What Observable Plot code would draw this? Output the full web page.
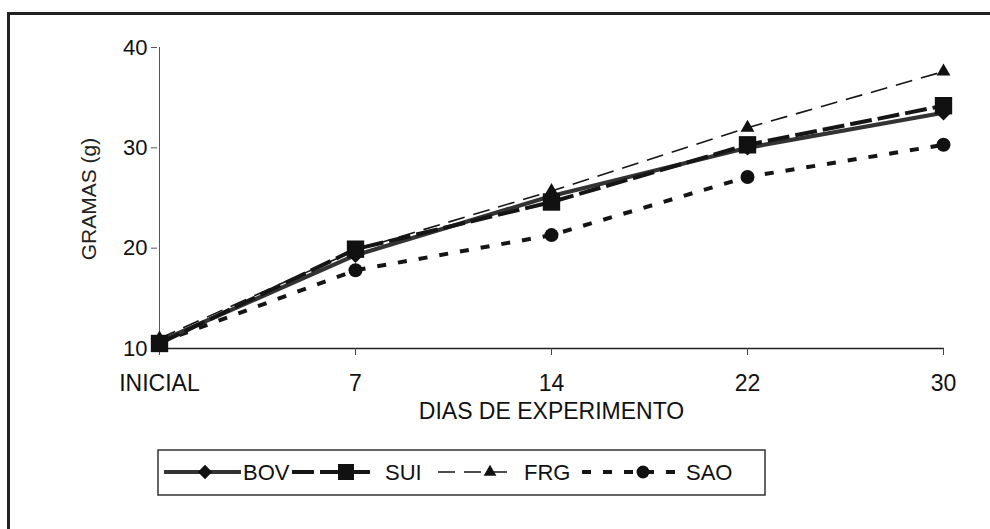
<!DOCTYPE html>
<html>
<head>
<meta charset="utf-8">
<script src="https://cdn.jsdelivr.net/npm/d3@7"></script>
<script src="https://cdn.jsdelivr.net/npm/@observablehq/plot@0.6"></script>
<style>
  html, body { margin: 0; padding: 0; background: #fff; }
  #wrap { position: relative; width: 990px; height: 529px; overflow: hidden; font-family: "Liberation Sans", Arial, sans-serif; }
  #frame { position: absolute; left: 7px; top: 12px; width: 990px; height: 600px; border-left: 3px solid #222; border-top: 3px solid #222; box-sizing: border-box; }
  #chart { position: absolute; left: 0; top: 0; }
  #legend { position: absolute; left: 0; top: 0; }
</style>
</head>
<body>
<div id="wrap">
  <div id="frame"></div>
  <div id="chart"></div>
  <svg id="legend" width="990" height="529"></svg>
</div>
<script>
const days = ["INICIAL", "7", "14", "22", "30"];
const seriesNames = ["BOV", "SUI", "FRG", "SAO"];
const bov = [10.7, 19.3, 25.2, 30.0, 33.5];
const sui = [10.5, 19.9, 24.6, 30.3, 34.2];
const frg = [11.0, 19.8, 25.7, 32.0, 37.6];
const sao = [10.6, 17.8, 21.3, 27.1, 30.3];
const yTicks = [10, 20, 30, 40];
const xTitle = "DIAS DE EXPERIMENTO";
const yTitle = "GRAMAS (g)";

const valuesBySeries = {BOV: bov, SUI: sui, FRG: frg, SAO: sao};
const rows = seriesNames.flatMap(s => days.map((d, i) => ({series: s, day: d, value: valuesBySeries[s][i]})));
const of = s => rows.filter(r => r.series === s);

const style = {
  BOV: {stroke: "#333", width: 4.2, dash: null, symbol: "diamond2", r: 7},
  SUI: {stroke: "#151515", width: 4, dash: "22,6", symbol: "square", r: 9.8},
  FRG: {stroke: "#151515", width: 1.6, dash: "17,9", symbol: "triangle2", r: 6.6},
  SAO: {stroke: "#151515", width: 4, dash: "9,12", symbol: "circle", r: 7}
};

const marks = [
  Plot.ruleX(["INICIAL"], {y1: 10, y2: 40, stroke: "#555", strokeWidth: 1}),
  Plot.ruleY([10], {stroke: "#222", strokeWidth: 1.3}),
  Plot.axisY(yTicks, {tickSize: 6, tickPadding: 4, fontSize: 22, stroke: "#555", fill: "#111", label: null}),
  Plot.axisX(days, {tickSize: 7, tickPadding: 19, fontSize: 23, stroke: "#444", fill: "#111", label: null}),
  Plot.text([yTitle], {x: d => "INICIAL", y: d => 25, text: d => d, dx: -70, dy: 1, rotate: -90, fontSize: 21, fill: "#222", textAnchor: "middle"}),
  Plot.text([xTitle], {x: d => "14", y: d => 10, text: d => d, dy: 63, fontSize: 23, fill: "#111", textAnchor: "middle"})
];
for (const s of ["SAO", "FRG", "BOV", "SUI"]) {
  const st = style[s];
  marks.push(Plot.line(of(s), {x: "day", y: "value", stroke: st.stroke, strokeWidth: st.width, strokeDasharray: st.dash, strokeLinecap: "butt", strokeLinejoin: "round"}));
}
for (const s of ["SAO", "BOV", "SUI", "FRG"]) {
  const st = style[s];
  marks.push(Plot.dot(of(s), {x: "day", y: "value", symbol: st.symbol, r: st.r, fill: "#111", stroke: "none"}));
}

const chart = Plot.plot({
  width: 990,
  height: 430,
  marginLeft: 157,
  marginRight: 46,
  marginTop: 47,
  marginBottom: 82,
  style: {fontFamily: "'Liberation Sans', Arial, sans-serif", background: "transparent", overflow: "visible"},
  x: {type: "point", domain: days, padding: 0, axis: null},
  y: {domain: [10, 40], axis: null},
  marks
});
document.getElementById("chart").appendChild(chart);

// Legend
const leg = d3.select("#legend");
leg.append("rect").attr("x", 158).attr("y", 450).attr("width", 607).attr("height", 45)
  .attr("fill", "#fff").attr("stroke", "#333").attr("stroke-width", 1.5);
const items = [
  {name: "BOV", x0: 164, x1: 241, mx: 205, tx: 243},
  {name: "SUI", x0: 292, x1: 372, mx: 346, tx: 385},
  {name: "FRG", x0: 438, x1: 515, mx: 490, tx: 524},
  {name: "SAO", x0: 582, x1: 675, mx: 643, tx: 686}
];
const symMap = {diamond2: d3.symbolDiamond2, square: d3.symbolSquare, triangle2: d3.symbolTriangle2, circle: d3.symbolCircle};
const ly = 472;
for (const it of items) {
  const st = style[it.name];
  leg.append("line").attr("x1", it.x0).attr("x2", it.x1).attr("y1", ly).attr("y2", ly)
    .attr("stroke", st.stroke).attr("stroke-width", st.width)
    .attr("stroke-dasharray", st.dash);
  leg.append("path").attr("transform", `translate(${it.mx},${ly})`)
    .attr("d", d3.symbol(symMap[st.symbol], Math.PI * st.r * st.r * 0.85)())
    .attr("fill", "#111");
  leg.append("text").attr("x", it.tx).attr("y", ly + 8).attr("font-size", 22)
    .attr("font-family", "'Liberation Sans', Arial, sans-serif").attr("fill", "#111").text(it.name);
}
</script>
</body>
</html>
